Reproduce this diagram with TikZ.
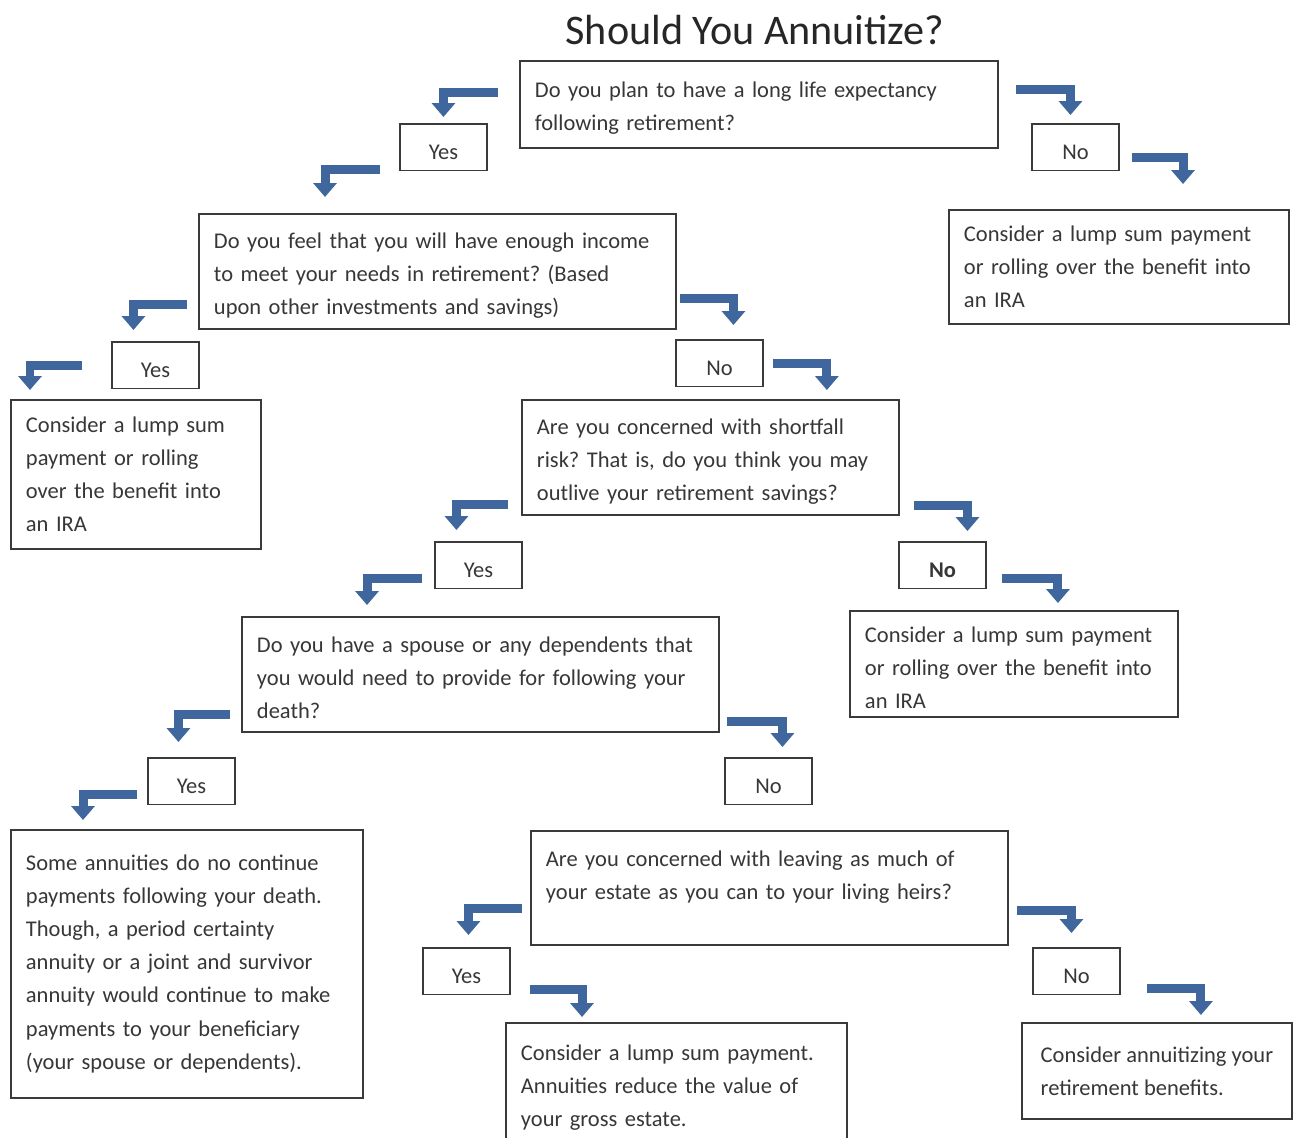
\documentclass[tikz,border=0pt]{standalone}
\usepackage{fontspec}
\setmainfont{Carlito}
\frenchspacing
\usepackage{tikz}
\usetikzlibrary{positioning, arrows.meta, calc}
\definecolor{Blue}{RGB}{64,102,158}
\definecolor{edgegray}{RGB}{58,58,58}
\definecolor{txtgray}{RGB}{55,55,55}
\tikzstyle{qb}=[%
      rectangle, draw=edgegray, line width=1.1pt, anchor=north west, align=left,
      inner xsep=0.3cm, inner ysep=0.1cm, text=txtgray, font=\fontsize{12.8}{18.8}\selectfont
]
\tikzstyle{yn}=[%
      rectangle, draw=edgegray, line width=1.1pt, anchor=north west, inner sep=0pt,
      minimum width=1.74cm, minimum height=0.93cm, text height=14pt, text depth=0pt,
      text=txtgray, font=\fontsize{12.8}{18.8}\selectfont
]
\tikzstyle{ar}=[%
      draw=Blue, line width=0.18cm, line join=miter,
      -{Triangle[length=0.28cm,width=0.46cm]}
]

\begin{document}
\begin{tikzpicture}[x=0.02cm, y=-0.02cm]
    \fill[white] (0,0) rectangle (1293,1137);
    \useasboundingbox (0,0) rectangle (1293,1137);

    \node[font=\fontsize{24}{28}\selectfont, text=black!85] (title) at (755,30) {Should You Annuitize?};

    % questions
    \node[qb, text width=8.96cm, minimum height=1.74cm] (q1) at (519,60)
        {\strut Do you plan to have a long life expectancy\\ following retirement?};
    \node[qb, text width=8.94cm, minimum height=2.3cm] (q2) at (198,213)
        {\strut Do you feel that you will have enough income\\ to meet your needs in retirement? (Based\\ upon other investments and savings)};
    \node[qb, text width=6.94cm, minimum height=2.3cm] (q3) at (521,399)
        {\strut Are you concerned with shortfall\\ risk? That is, do you think you may\\ outlive your retirement savings?};
    \node[qb, text width=8.94cm, minimum height=2.3cm] (q4) at (241,616)
        {\strut Do you have a spouse or any dependents that\\ you would need to provide for following your\\ death?};
    \node[qb, text width=8.94cm, minimum height=2.28cm] (q5) at (530,830)
        {\strut Are you concerned with leaving as much of\\ your estate as you can to your living heirs?\\ \mbox{}};

    % answers
    \node[yn] (yes1) at (399,123) {Yes};
    \node[yn] (no1)  at (1031,123) {No};
    \node[yn] (yes2) at (111,341) {Yes};
    \node[yn] (no2)  at (675,339) {No};
    \node[yn] (yes3) at (434,541) {Yes};
    \node[yn] (no3)  at (898,541) {\textbf{No}};
    \node[yn] (yes4) at (147,757) {Yes};
    \node[yn] (no4)  at (724,757) {No};
    \node[yn] (yes5) at (422,947) {Yes};
    \node[yn] (no5)  at (1032,947) {No};

    % results
    \node[qb, text width=6.2cm, minimum height=2.28cm] (r1) at (948,209)
        {Consider a lump sum payment\\ or rolling over the benefit into\\ an IRA};
    \node[qb, text width=4.4cm, minimum height=2.98cm] (r2) at (10,399)
        {Consider a lump sum\\ payment or rolling\\ over the benefit into\\ an IRA};
    \node[qb, text width=5.96cm, minimum height=2.12cm] (r3) at (849,610)
        {\strut Consider a lump sum payment\\ or rolling over the benefit into\\ an IRA};
    \node[qb, text width=6.44cm, minimum height=5.36cm] (r4) at (10,829)
        {Some annuities do no continue\\ payments following your death.\\ Though, a period certainty\\ annuity or a joint and survivor\\ annuity would continue to make\\ payments to your beneficiary\\ (your spouse or dependents).};
    \node[qb, text width=6.22cm, minimum height=2.6cm] (r5) at (505,1022)
        {Consider a lump sum payment.\\ Annuities reduce the value of\\ your gross estate.};
    \node[qb, minimum width=5.4cm, minimum height=1.92cm] (r6) at (1021,1022)
        {Consider annuitizing your\\ retirement benefits.};

    % bent arrows
    \draw[ar] ($(q1.north west)+(-21,32)$) -| ($(yes1.north)+(0,-6)$);
    \draw[ar] ($(yes1.south west)+(-19,-2)$) -| ($(q2.north west)+(127,-16)$);
    \draw[ar] ($(q1.north east)+(17,29)$) -| ($(no1.north)+(-5,-8)$);
    \draw[ar] ($(no1.east)+(12,10)$) -| ($(r1.north west)+(235,-25)$);
    \draw[ar] ($(q2.west)+(-11,33)$) -| ($(yes2.north)+(-22,-11)$);
    \draw[ar] ($(yes2.west)+(-29,0)$) -| ($(r2.north west)+(20,-9)$);
    \draw[ar] ($(q2.east)+(3,27)$) -| ($(no2.north)+(14,-14)$);
    \draw[ar] ($(no2.east)+(9,0)$) -| ($(q3.north east)+(-73,-9)$);
    \draw[ar] ($(q3.south west)+(-13,-11)$) -| ($(yes3.north)+(-22,-11)$);
    \draw[ar] ($(yes3.west)+(-12,13)$) -| ($(q4.north west)+(126,-11)$);
    \draw[ar] ($(q3.south east)+(14,-10)$) -| ($(no3.north)+(25,-10)$);
    \draw[ar] ($(no3.east)+(15,13)$) -| ($(r3.north)+(44,-7)$);
    \draw[ar] ($(q4.west)+(-11,40)$) -| ($(yes4.north)+(-13,-15)$);
    \draw[ar] ($(yes4.west)+(-10,13)$) -| ($(r4.north west)+(73,-9)$);
    \draw[ar] ($(q4.east)+(7,47)$) -| ($(no4.north)+(14,-10)$);
    \draw[ar] ($(q5.west)+(-8,21)$) -| ($(yes5.north)+(2,-12)$);
    \draw[ar] ($(yes5.south east)+(19,-6)$) -| ($(r5.north west)+(77,-5)$);
    \draw[ar] ($(q5.east)+(8,23)$) -| ($(no5.north)+(-5,-14)$);
    \draw[ar] ($(no5.east)+(26,17)$) -| ($(r6.north)+(44,-7)$);

\end{tikzpicture}
\end{document}
